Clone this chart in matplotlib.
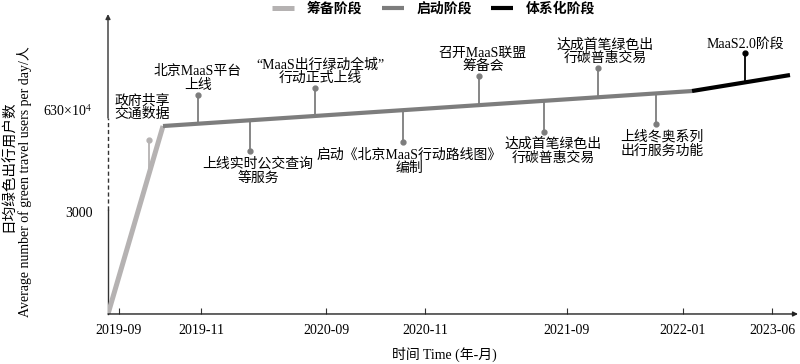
import numpy as np
import matplotlib
matplotlib.use("Agg")
import matplotlib.pyplot as plt

plt.rcParams['font.family'] = ['Liberation Serif', 'Noto Sans CJK SC']
plt.rcParams['mathtext.fontset'] = 'stix'

#%% --- Data ---
# schematic time axis (uneven spacing as in the source figure)
tick_pos = [11, 93, 218, 317, 459, 575, 664]
tick_labels = ['2019-09', '2019-11', '2020-09', '2020-11',
               '2021-09', '2022-01', '2023-06']

# schematic user level axis (broken axis)
ytick_pos = [102, 204]
ytick_labels = ['3000', '630×10$^{4}$']

# stage lines
stage_names = ['筹备阶段', '启动阶段', '体系化阶段']
prep_x, prep_y = [0, 55], [0, 188]
start_x, start_y = [55, 584], [188, 223]
system_x, system_y = [584, 682], [223, 239]

# milestones
event_x = [41, 90, 142, 207, 295, 371, 436, 490, 548, 637]
event_text = ['政府共享\n交通数据',
              '北京MaaS平台\n上线',
              '上线实时公交查询\n等服务',
              '“MaaS出行绿动全城”\n行动正式上线',
              '启动《北京MaaS行动路线图》\n编制',
              '召开MaaS联盟\n筹备会',
              '达成首笔绿色出\n行碳普惠交易',
              '达成首笔绿色出\n行碳普惠交易',
              '上线冬奥系列\n出行服务功能',
              'MaaS2.0阶段']
event_side = [1, 1, -1, 1, -1, 1, -1, 1, -1, 1]

#%% --- Styles ---
colors = {'prep': '#b5b2b2', 'start': '#7d7d7d', 'system': '#000000'}
stem_len = [34, 29, 31, 28, 32, 29, 31, 29, 31, 29]
label_dx = [-7, 0, 8, 5, 6, 4, 9, 7, 6, 0]
label_gap = [19, 3, 6, 3, 6, 3, 6, 3, 6, 3]
stem_colors = [colors['prep']] + [colors['start']] * 8 + [colors['system']]

#%% --- Visualize ---
fig = plt.figure(figsize=(8.0, 3.64), dpi=100)
ax = fig.add_axes([0.135, 0.1374, 0.8625, 0.824])
ax.set_xlim(0, 690)
ax.set_ylim(0, 300)

l1, = ax.plot(prep_x, prep_y, color=colors['prep'], lw=3.6,
              solid_capstyle='butt', zorder=3, label=stage_names[0])
l2, = ax.plot(start_x, start_y, color=colors['start'], lw=3.0,
              solid_capstyle='butt', zorder=3, label=stage_names[1])
l3, = ax.plot(system_x, system_y, color=colors['system'], lw=3.0,
              solid_capstyle='butt', zorder=3, label=stage_names[2])

line_x = prep_x + start_x[1:] + system_x[1:]
line_y = prep_y + start_y[1:] + system_y[1:]
base_y = np.interp(event_x, line_x, line_y)

for i, x in enumerate(event_x):
    y0 = base_y[i]
    y1 = y0 + event_side[i] * stem_len[i]
    ax.plot([x, x], [y0, y1], color=stem_colors[i], lw=1.3, zorder=2)
    ax.plot(x, y1, 'o', color=stem_colors[i], ms=3.5, zorder=2)
    if event_side[i] > 0:
        ax.text(x + label_dx[i], y1 + label_gap[i], event_text[i],
                ha='center', va='bottom', fontsize=10, linespacing=1.05)
    else:
        ax.text(x + label_dx[i], y1 - label_gap[i], event_text[i],
                ha='center', va='top', fontsize=10, linespacing=1.05)

# axes with arrows and broken y axis
for s in ax.spines.values():
    s.set_visible(False)
ax.annotate('', xy=(1.0, 0), xytext=(0, 0), xycoords='axes fraction',
            arrowprops=dict(arrowstyle='-|>', color='#222222', lw=1.0,
                            mutation_scale=7, shrinkA=0, shrinkB=0))
ax.plot([0, 0], [0, ytick_pos[0] + 2], color='#333333', lw=1.0, clip_on=False)
ax.plot([0, 0], [ytick_pos[0] + 2, ytick_pos[1] - 8], color='#333333',
        lw=1.0, ls=(0, (3, 2)), clip_on=False)
ax.annotate('', xy=(0, 1.0), xytext=(0, (ytick_pos[1] - 8) / 300),
            xycoords='axes fraction',
            arrowprops=dict(arrowstyle='-|>', color='#333333', lw=1.0,
                            mutation_scale=7, shrinkA=0, shrinkB=0))

ax.set_xticks(tick_pos)
ax.set_xticklabels(tick_labels, fontsize=10)
ax.tick_params(axis='x', direction='in', length=4, width=0.8, pad=7,
               color='#333333')
ax.set_yticks(ytick_pos)
ax.set_yticklabels(ytick_labels, fontsize=10)
ax.tick_params(axis='y', length=0, pad=11)

fig.text(0.555, 0.025, '时间 Time (年-月)', ha='center', va='center',
         fontsize=10)
fig.text(0.011, 0.544, '日均绿色出行用户数', rotation=90, ha='center',
         va='center', fontsize=10.5)
fig.text(0.031, 0.5, 'Average number of green travel users per day/人',
         rotation=90, ha='center', va='center', fontsize=10)

fig.legend(handles=[l1, l2, l3], loc='center', bbox_to_anchor=(0.542, 0.975),
           ncol=3, frameon=False, handlelength=1.6, handletextpad=0.9,
           columnspacing=1.4, prop={'weight': 'bold', 'size': 10})

fig.savefig('out.png', dpi=100)
